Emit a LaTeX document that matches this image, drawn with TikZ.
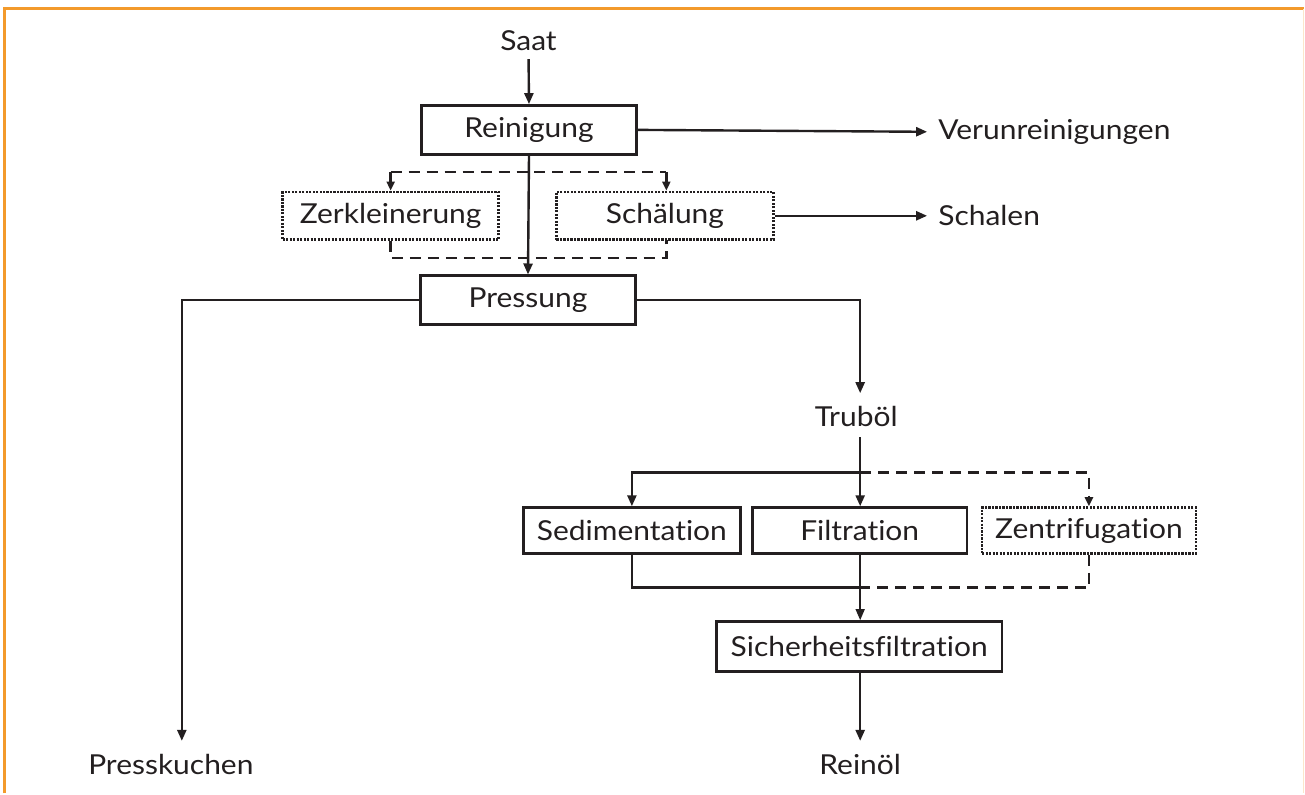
\documentclass[tikz,border=0pt]{standalone}
\usepackage{fontspec}
\setmainfont{Lato}[Ligatures={NoCommon,NoRare}, FakeStretch=1.09]
\usetikzlibrary{arrows.meta,calc}
\definecolor{ink}{HTML}{231F20}
\definecolor{frame}{HTML}{F39A2B}
\newcommand{\lblfont}{\fontsize{27.5}{32}\selectfont}
\tikzset{
  txt/.style={inner sep=0pt, font=\lblfont, text=ink},
  box/.style={draw=ink, line width=2.5pt, inner sep=0pt, minimum height=49pt, font=\lblfont, text=ink},
  dbox/.style={box, line width=2.6pt, dash pattern=on 2.2pt off 1.3pt},
  conn/.style={draw=ink, line width=2.4pt},
  flow/.style={conn, -{Triangle[length=11pt,width=9pt]}},
  dline/.style={conn, dash pattern=on 11pt off 7pt},
  dflow/.style={dline, -{Triangle[length=9pt,width=8pt]}},
  thinflow/.style={draw=ink, line width=1.4pt, -{Triangle[length=11pt,width=9pt]}}
}
\begin{document}
\begin{tikzpicture}[x=1pt,y=-1pt]
\fill[white] (0,0) rectangle (1305,794);
\draw[frame, line width=2.5pt] (4.5,794) -- (4.5,8.5) -- (1305,8.5);
\draw[frame!25, line width=1pt] (1304.5,9) -- (1304.5,794);

% nodes
\node[txt] (saat) at (529,41) {Saat};
\node[box, minimum width=215pt] (rein) at (529.5,130) {Reinigung};
\node[txt, anchor=west] (verun) at (939,132) {Verunreinigungen};
\node[dbox, minimum width=216pt, minimum height=48pt] (zerk) at (391,216) {Zerkleinerung};
\node[dbox, minimum width=217pt, minimum height=48pt] (schael) at (665.5,216) {Schälung};
\node[txt, anchor=west] (schalen) at (939,216) {Schalen};
\node[box, minimum width=215pt] (press) at (528.5,300.5) {Pressung};
\node[txt] (pk) at (171,765) {Presskuchen};
\node[txt] (trub) at (857,417) {Truböl};
\node[box, minimum width=217pt, minimum height=46pt] (sed) at (632.5,531) {Sedimentation};
\node[box, minimum width=215pt, minimum height=46pt] (filt) at (860.5,531) {Filtration};
\node[dbox, minimum width=214pt, minimum height=46pt] (zent) at (1090,531) {Zentrifugation};
\node[box, minimum width=286pt, minimum height=50pt] (sich) at (860,647) {Sicherheitsfiltration};
\node[txt] (reinoel) at (861,765) {Reinöl};

\coordinate (dt) at (529,172);
\coordinate (db) at (529,258);
\coordinate (br) at (861,473);
\coordinate (bj) at (861,588);

% connectors
\draw[flow, shorten <=8pt] (saat.south) -- (rein.north);
\draw[flow, shorten >=11pt] (rein.east) -- (verun.west);
\draw[flow] (rein.south) -- (press.north);
\draw[dline] (zerk.north |- dt) -- (667,172);
\draw[dflow] (zerk.north |- dt) -- (zerk.north);
\draw[dflow] (667,172) -- (schael.north -| 667,0);
\draw[dline] (zerk.south) -- (zerk.south |- db) -- (667,258) -- (667,240);
\draw[flow, shorten >=11pt] (schael.east) -- (schalen.west);
\draw[flow, shorten >=13pt] (press.west) -| ([xshift=11pt]pk.north);
\draw[flow, shorten >=13pt] (press.east) -| ([xshift=4pt]trub.north);
\draw[flow, shorten <=10pt] ([xshift=4pt]trub.south) -- (filt.north -| br);
\draw[flow] (br) -| (sed.north);
\draw[dflow] (br) -| (zent.north);
\draw[conn] (sed.south) |- (bj);
\draw[dline] (zent.south) |- (bj);
\draw[thinflow] (filt.south -| bj) -- (sich.north -| bj);
\draw[flow, shorten >=13pt] (sich.south -| reinoel) -- (reinoel.north);
\end{tikzpicture}
\end{document}
